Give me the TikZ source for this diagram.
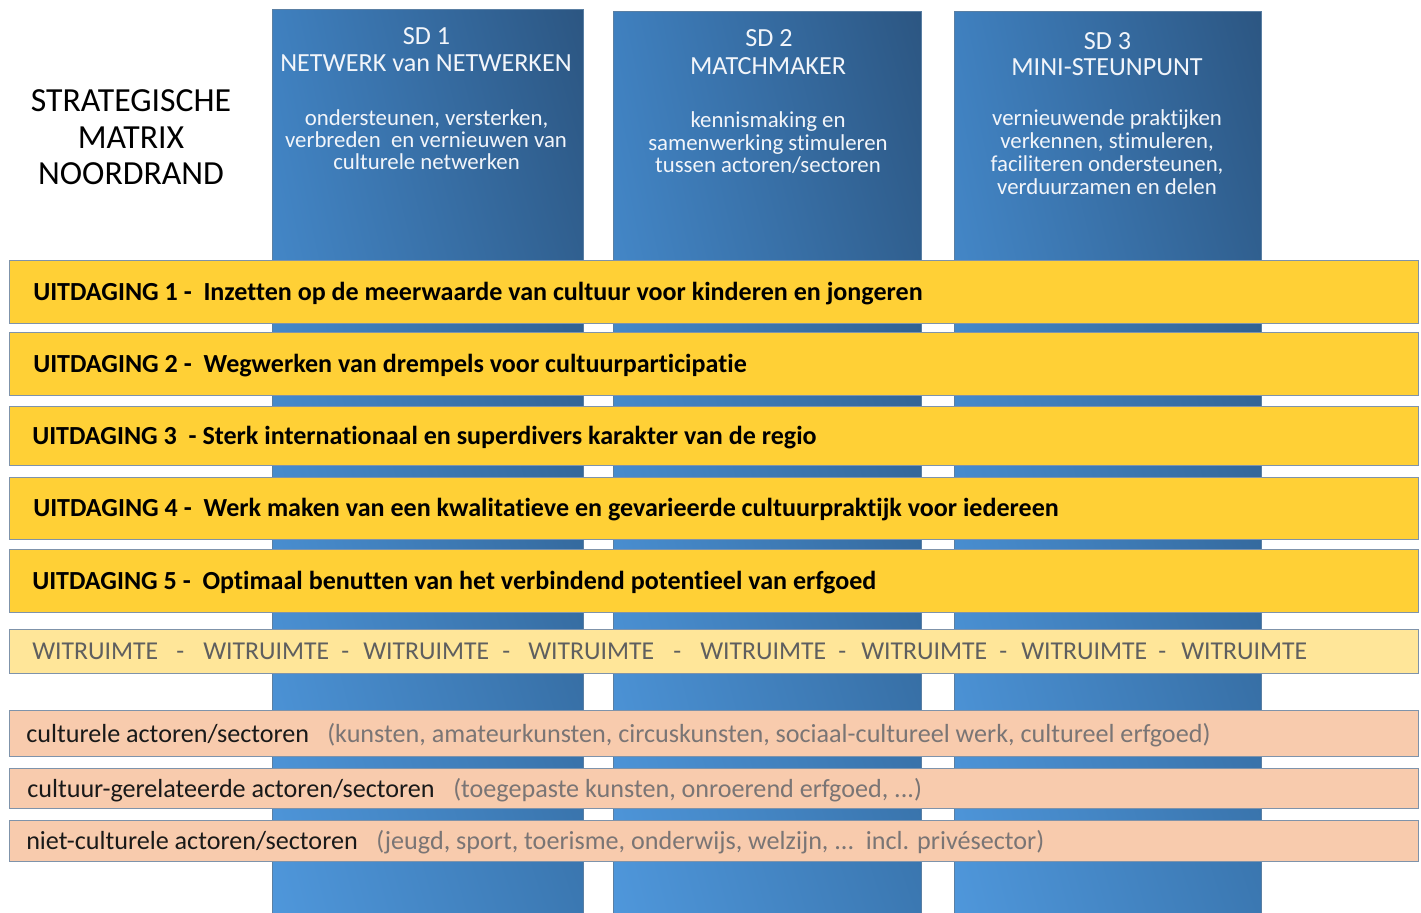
\documentclass[tikz,border=0pt]{standalone}
\usepackage{fontspec}
\usetikzlibrary{shadings}
\setmainfont{Carlito}[Ligatures={NoCommon}]
\definecolor{ygold}{HTML}{FFD036}
\definecolor{ylight}{HTML}{FFE699}
\definecolor{peach}{HTML}{F8CBAD}
\definecolor{barline}{HTML}{7F93AA}
\definecolor{colline}{HTML}{5A7FA3}
\definecolor{txtgrey}{HTML}{5F5F5F}
\definecolor{parengrey}{HTML}{7A7575}
\definecolor{headtxt}{HTML}{F2F5FA}
\definecolor{colUL}{HTML}{3F80BF}
\definecolor{colUR}{HTML}{2C5682}
\definecolor{colLL}{HTML}{4F97DB}
\definecolor{colLR}{HTML}{3B78B2}
\tikzset{
  column/.style={draw=colline, line width=0.75pt,
    upper left=colUL, upper right=colUR,
    lower left=colLL, lower right=colLR},
  uitbar/.style={fill=ygold, draw=barline, line width=0.75pt},
  witbar/.style={fill=ylight, draw=barline, line width=0.75pt},
  actbar/.style={fill=peach, draw=barline, line width=0.75pt},
  titletxt/.style={anchor=base, inner sep=0pt, text=black,
    font=\fontsize{25.3}{27}\selectfont},
  headline/.style={anchor=base, inner sep=0pt, text=headtxt,
    font=\fontsize{19.6}{21}\selectfont},
  descline/.style={anchor=base, inner sep=0pt, text=headtxt,
    font=\fontsize{17.1}{19}\selectfont},
  uittxt/.style={anchor=base west, inner sep=0pt, text=black,
    font=\fontsize{19.55}{21}\selectfont\bfseries},
  wittxt/.style={anchor=base west, inner sep=0pt, text=txtgrey,
    font=\fontsize{19.3}{21}\selectfont},
  actmain/.style={anchor=base west, inner sep=0pt, text=black!90,
    font=\fontsize{19.6}{21}\selectfont},
  actparen/.style={anchor=base west, inner sep=0pt, text=parengrey,
    font=\fontsize{19.6}{21}\selectfont},
}
\begin{document}
\begin{tikzpicture}[x=0.75pt, y=-0.75pt]
\useasboundingbox (0,0) rectangle (1421,913);
\fill[white] (0,0) rectangle (1421,913);

% three strategic columns running behind the bars
\shadedraw[column] (272,10) rectangle (583,913);
\shadedraw[column] (613,12) rectangle (921,913);
\shadedraw[column] (954,12) rectangle (1261,913);

% title
\node[titletxt] (title1) at (131,112) {STRATEGISCHE};
\node[titletxt] (title2) at (131,148.5) {MATRIX};
\node[titletxt] (title3) at (131,185) {NOORDRAND};

% column headers
\node[headline] (sd1a) at (426.5,45) {SD 1};
\node[headline] (sd1b) at (426,72) {NETWERK van NETWERKEN};
\node[descline] (sd1c) at (426.5,126) {ondersteunen, versterken,};
\node[descline] (sd1d) at (426,148) {verbreden\ \ en vernieuwen van};
\node[descline] (sd1e) at (426.5,170) {culturele netwerken};

\node[headline] (sd2a) at (769,47) {SD 2};
\node[headline] (sd2b) at (768,75) {MATCHMAKER};
\node[descline] (sd2c) at (768,128) {kennismaking en};
\node[descline] (sd2d) at (768,150.5) {samenwerking stimuleren};
\node[descline] (sd2e) at (768,173) {tussen actoren/sectoren};

\node[headline] (sd3a) at (1107.5,50) {SD 3};
\node[headline] (sd3b) at (1107,76) {MINI-STEUNPUNT};
\node[descline] (sd3c) at (1107,126) {vernieuwende praktijken};
\node[descline] (sd3d) at (1107,149) {verkennen, stimuleren,};
\node[descline] (sd3e) at (1107,172) {faciliteren ondersteunen,};
\node[descline] (sd3f) at (1107,194.5) {verduurzamen en delen};

% challenges
\draw[uitbar] (9,260) rectangle (1418,323);
\draw[uitbar] (9,332) rectangle (1418,395);
\draw[uitbar] (9,406) rectangle (1418,465);
\draw[uitbar] (9,477) rectangle (1418,539);
\draw[uitbar] (9,549) rectangle (1418,612);
\node[uittxt] (u1) at (33,300.5) {UITDAGING 1 -\ \ Inzetten op de meerwaarde van cultuur voor kinderen en jongeren};
\node[uittxt] (u2) at (33,372.5) {UITDAGING 2 -\ \ Wegwerken van drempels voor cultuurparticipatie};
\node[uittxt] (u3) at (32,444.5) {UITDAGING 3\ \ - Sterk internationaal en superdivers karakter van de regio};
\node[uittxt] (u4) at (33,516.5) {UITDAGING 4 -\ \ Werk maken van een kwalitatieve en gevarieerde cultuurpraktijk voor iedereen};
\node[uittxt] (u5) at (32,589.5) {UITDAGING 5 -\ \ Optimaal benutten van het verbindend potentieel van erfgoed};

% free space row
\draw[witbar] (9,629) rectangle (1418,673);
\node[wittxt] (w1) at (32,659.5) {WITRUIMTE};
\node[wittxt] (d1) at (176,659.5) {-};
\node[wittxt] (w2) at (203,659.5) {WITRUIMTE};
\node[wittxt] (d2) at (341,659.5) {-};
\node[wittxt] (w3) at (363,659.5) {WITRUIMTE};
\node[wittxt] (d3) at (502,659.5) {-};
\node[wittxt] (w4) at (528,659.5) {WITRUIMTE};
\node[wittxt] (d4) at (673,659.5) {-};
\node[wittxt] (w5) at (700,659.5) {WITRUIMTE};
\node[wittxt] (d5) at (838,659.5) {-};
\node[wittxt] (w6) at (861,659.5) {WITRUIMTE};
\node[wittxt] (d6) at (999,659.5) {-};
\node[wittxt] (w7) at (1021,659.5) {WITRUIMTE};
\node[wittxt] (d7) at (1158,659.5) {-};
\node[wittxt] (w8) at (1181,659.5) {WITRUIMTE};

% actors
\draw[actbar] (9,710) rectangle (1418,756);
\draw[actbar] (9,768) rectangle (1418,808);
\draw[actbar] (9,820) rectangle (1418,861);
\node[actmain] (a1) at (26,742) {culturele actoren/sectoren};
\node[actparen] (p1) at (327,742) {(kunsten, amateurkunsten, circuskunsten, sociaal-cultureel werk, cultureel erfgoed)};
\node[actmain] (a2) at (27,797) {cultuur-gerelateerde actoren/sectoren};
\node[actparen] (p2) at (453,797) {(toegepaste kunsten, onroerend erfgoed, ...)};
\node[actmain] (a3) at (26,849) {niet-culturele actoren/sectoren};
\node[actparen] (p3) at (376,849) {(jeugd, sport, toerisme, onderwijs, welzijn, ...\ \ incl. privésector)};
\end{tikzpicture}
\end{document}
